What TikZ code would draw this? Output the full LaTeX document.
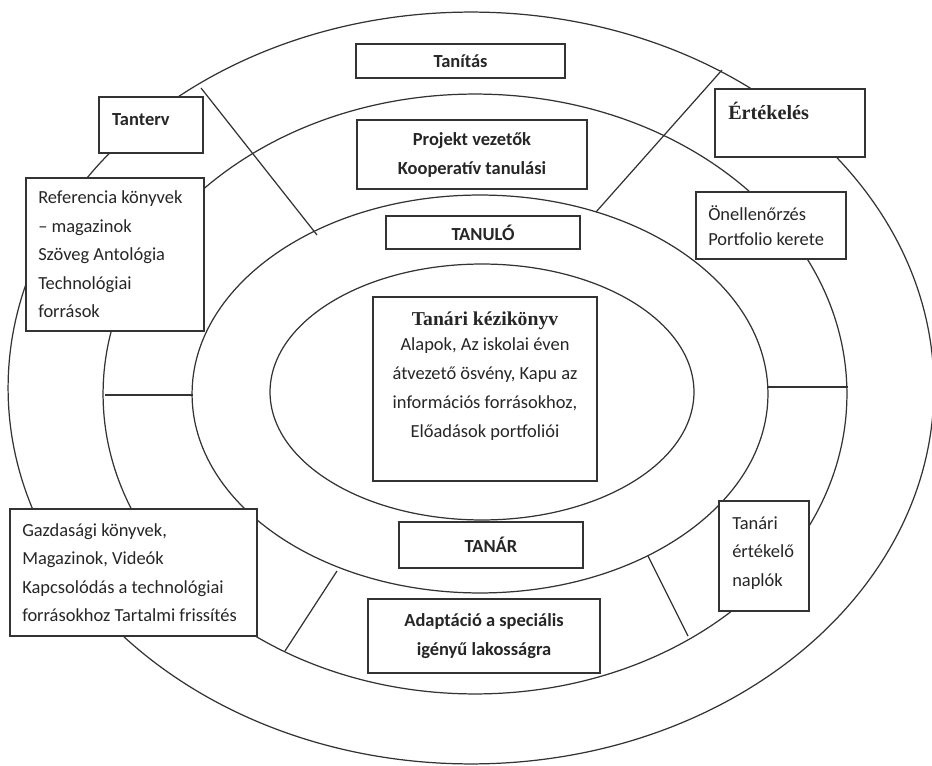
\documentclass[tikz,border=0pt]{standalone}
\usepackage{fontspec}
\setmainfont{Carlito}
\newfontfamily\timesfont{Liberation Serif}
\usetikzlibrary{positioning}

\tikzset{
  ring/.style={draw=black!80, line width=0.7pt},
  divider/.style={draw=black!80, line width=0.7pt},
  frame/.style={draw=black!80, fill=white, line width=0.7pt, inner sep=0pt, text=black!85},
  midtext/.style={align=center, font=\fontsize{10.5}{16.5}\selectfont\bfseries},
  lefttext/.style={anchor=west, xshift=0.25cm, align=left, inner sep=0pt, text=black!85},
  toplefttext/.style={anchor=north west, xshift=0.27cm, align=left, inner sep=0pt, text=black!85}
}

\begin{document}
\begin{tikzpicture}[x=0.02cm, y=-0.02cm, font=\fontsize{10.5}{16.2}\selectfont]
\useasboundingbox (0,0) rectangle (932,766);

% rings, outer to inner
\draw[ring] (471,388) ellipse [x radius=9.26cm, y radius=7.52cm];
\draw[ring] (475,394) ellipse [x radius=7.44cm, y radius=6.0cm];
\draw[ring] (480,394) ellipse [x radius=5.76cm, y radius=3.98cm];
\draw[ring] (482,392) ellipse [x radius=4.24cm, y radius=2.56cm];

% dividers between the rings
\coordinate (nwOut) at (201,88);
\coordinate (nwIn) at (317,235);
\coordinate (neOut) at (722,70);
\coordinate (neIn) at (596,212);
\coordinate (wOut) at (105,395);
\coordinate (wIn) at (193,395);
\coordinate (eIn) at (768,387);
\coordinate (eOut) at (848,387);
\coordinate (swIn) at (337,571);
\coordinate (swOut) at (285,651);
\coordinate (seIn) at (648,556);
\coordinate (seOut) at (688,636);
\draw[divider] (nwOut) -- (nwIn);
\draw[divider] (neOut) -- (neIn);
\draw[divider] (wOut) -- (wIn);
\draw[divider] (eIn) -- (eOut);
\draw[divider] (swIn) -- (swOut);
\draw[divider] (seIn) -- (seOut);

% middle column
\node[frame, midtext, minimum width=4.18cm, minimum height=0.68cm] (tanitas) at (460.5,61) {Tanítás};
\node[frame, midtext, minimum width=4.6cm, minimum height=1.38cm] (projekt) at (472,154.5) {Projekt vezetők\\Kooperatív tanulási};
\node[frame, midtext, minimum width=3.88cm, minimum height=0.66cm] (tanulo) at (483,232.5) {TANULÓ};
\node[frame, minimum width=4.48cm, minimum height=3.68cm,
  label={[anchor=north, yshift=-0.3cm, align=center, inner sep=0pt, text=black!85, font=\fontsize{10.5}{16.5}\selectfont]north:{{\timesfont\bfseries\fontsize{11.2}{13}\selectfont Tanári kézikönyv}\\[-2pt]Alapok, Az iskolai éven\\átvezető ösvény, Kapu az\\információs forrásokhoz,\\Előadások portfoliói}}] (kezikonyv) at (485,389) {};
\node[frame, midtext, minimum width=3.68cm, minimum height=0.92cm] (tanar) at (491,545) {TANÁR};
\node[frame, midtext, minimum width=4.64cm, minimum height=1.48cm] (adaptacio) at (484,636) {Adaptáció a speciális\\igényű lakosságra};

% left side
\node[frame, minimum width=2.08cm, minimum height=1.12cm,
  label={[toplefttext, yshift=-0.33cm, font=\fontsize{10.5}{16}\selectfont\bfseries]north west:Tanterv}] (tanterv) at (151,125) {};
\node[frame, minimum width=3.56cm, minimum height=3.06cm,
  label={[lefttext]west:{Referencia könyvek\\– magazinok\\Szöveg Antológia\\Technológiai\\források}}] (referencia) at (115,254.5) {};
\node[frame, minimum width=4.94cm, minimum height=2.54cm,
  label={[lefttext]west:{Gazdasági könyvek,\\Magazinok, Videók\\Kapcsolódás a technológiai\\forrásokhoz Tartalmi frissítés}}] (gazdasagi) at (133.5,572.5) {};

% right side
\node[frame, minimum width=3.0cm, minimum height=1.36cm,
  label={[toplefttext, yshift=-0.26cm, font=\timesfont\bfseries\fontsize{11.5}{14}\selectfont]north west:Értékelés}] (ertekeles) at (790,123) {};
\node[frame, minimum width=3.0cm, minimum height=1.34cm,
  label={[lefttext, font=\fontsize{10.5}{14.2}\selectfont]west:{Önellenőrzés\\Portfolio kerete}}] (onellenorzes) at (771,225.5) {};
\node[frame, minimum width=1.8cm, minimum height=2.2cm,
  label={[toplefttext, yshift=-0.32cm]north west:{Tanári\\értékelő\\naplók}}] (naplok) at (764,556) {};
\end{tikzpicture}
\end{document}
